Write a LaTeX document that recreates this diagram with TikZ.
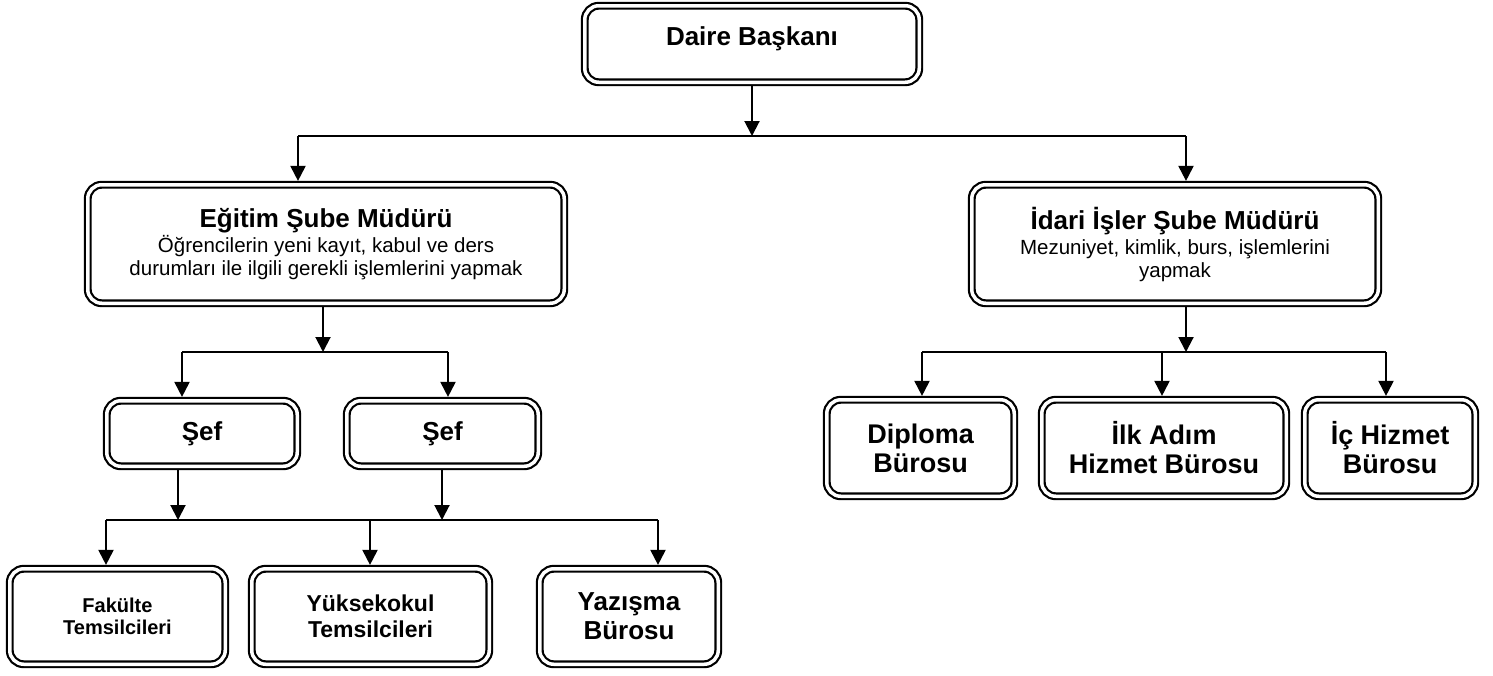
\documentclass[tikz,border=0pt]{standalone}
\usepackage{fontspec}
\setmainfont{Liberation Sans}
\usetikzlibrary{arrows.meta}
\tikzset{
  box/.style={draw, double, double distance=3.5pt, line width=2.2pt, rounded corners=14pt,
    align=center, inner sep=0pt, outer sep=3.85pt, fill=white},
  bigbold/.style={font=\fontsize{26}{29}\selectfont\bfseries},
  lowbold/.style={font=\fontsize{27}{29}\selectfont\bfseries},
  midbold/.style={font=\fontsize{23}{26}\selectfont\bfseries},
  smallbold/.style={font=\fontsize{20}{22}\selectfont\bfseries},
  descbox/.style={font=\fontsize{20.5}{23}\selectfont},
  ln/.style={line width=2pt},
  arr/.style={line width=2pt, -{Triangle[width=15pt,length=15pt]}}
}
\begin{document}
\begin{tikzpicture}[x=1pt,y=-1pt]
\useasboundingbox (0,0) rectangle (1493,675);
% boxes
\node[box, bigbold, minimum width=334.5pt, minimum height=76.5pt, text height=19pt, text depth=17pt] (top) at (752,44) {Daire Başkanı};
\node[box, descbox, minimum width=476.5pt, minimum height=118.5pt] (eg) at (326,244)
  {{\fontsize{26}{29}\selectfont\bfseries Eğitim Şube Müdürü}\\[2pt]
   Öğrencilerin yeni kayıt, kabul ve ders\\durumları ile ilgili gerekli işlemlerini yapmak};
\node[box, descbox, minimum width=406.5pt, minimum height=118.5pt] (id) at (1175,244)
  {{\fontsize{26}{29}\selectfont\bfseries İdari İşler Şube Müdürü}\\[2pt]
   Mezuniyet, kimlik, burs, işlemlerini\\yapmak};
\node[box, bigbold, minimum width=190.5pt, minimum height=65.5pt] (s1) at (202,433.5) {Şef};
\node[box, bigbold, minimum width=191.5pt, minimum height=65.5pt] (s2) at (442.5,433.5) {Şef};
\node[box, smallbold, minimum width=215.5pt, minimum height=95.5pt] (fk) at (117.5,616.5) {Fakülte\\Temsilcileri};
\node[box, midbold, minimum width=237.5pt, minimum height=95.5pt] (yu) at (370.5,616.5) {Yüksekokul\\Temsilcileri};
\node[box, bigbold, minimum width=178.5pt, minimum height=95.5pt] (yz) at (629,616.5) {Yazışma\\Bürosu};
\node[box, lowbold, minimum width=187.5pt, minimum height=96.5pt] (dp) at (920.5,448) {Diploma\\Bürosu};
\node[box, lowbold, minimum width=244.5pt, minimum height=96.5pt] (ia) at (1164,448) {İlk Adım\\Hizmet Bürosu};
\node[box, lowbold, minimum width=170.5pt, minimum height=96.5pt] (ic) at (1390,448) {İç Hizmet\\Bürosu};
% level 1
\coordinate (A1) at (298,136);
\coordinate (A2) at (1186,136);
\draw[ln] (A1) -- (A2);
\draw[arr] (top.south) -- (top.south |- A1);
\draw[arr] (A1) -- (A1 |- eg.north);
\draw[arr] (A2) -- (A2 |- id.north);
% left level 2
\coordinate (B0) at (323,352);
\coordinate (B1) at (182,352);
\coordinate (B2) at (448,352);
\draw[ln] (B1) -- (B2);
\draw[arr] (B0 |- eg.south) -- (B0);
\draw[arr] (B1) -- (B1 |- s1.north);
\draw[arr] (B2) -- (B2 |- s2.north);
% left level 3
\coordinate (S1) at (178,520);
\coordinate (S2) at (442,520);
\coordinate (C1) at (106,520);
\coordinate (C3) at (370,520);
\coordinate (C2) at (658,520);
\draw[ln] (C1) -- (C2);
\draw[arr] (S1 |- s1.south) -- (S1);
\draw[arr] (S2 |- s2.south) -- (S2);
\draw[arr] (C1) -- (C1 |- fk.north);
\draw[arr] (C3) -- (C3 |- yu.north);
\draw[arr] (C2) -- (C2 |- yz.north);
% right level 2
\coordinate (D0) at (1186,352);
\coordinate (D1) at (922,352);
\coordinate (D3) at (1162,352);
\coordinate (D2) at (1386,352);
\draw[ln] (D1) -- (D2);
\draw[arr] (D0 |- id.south) -- (D0);
\draw[arr] (D1) -- (D1 |- dp.north);
\draw[arr] (D3) -- (D3 |- ia.north);
\draw[arr] (D2) -- (D2 |- ic.north);
\end{tikzpicture}
\end{document}
